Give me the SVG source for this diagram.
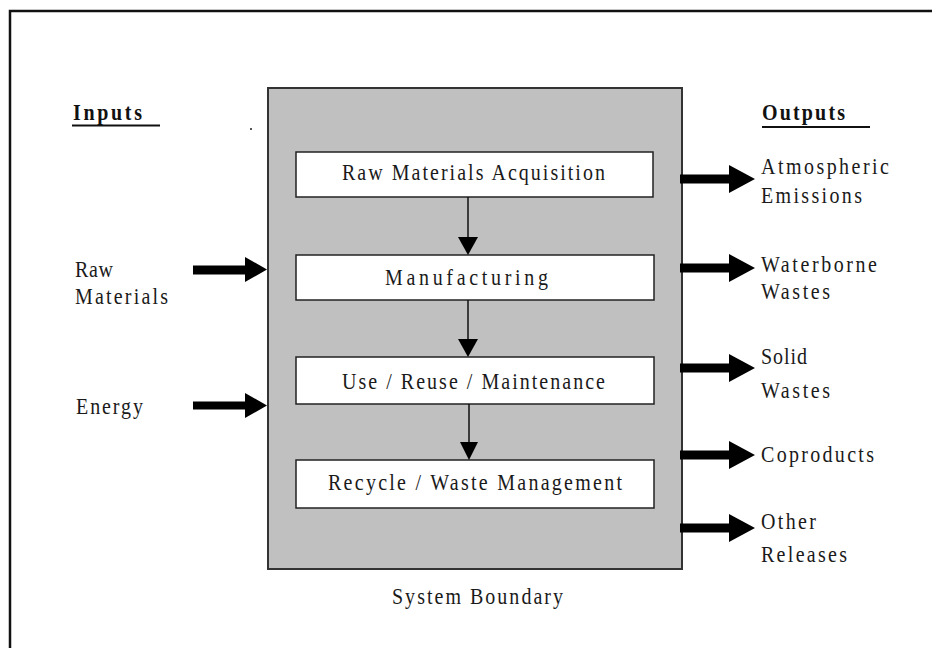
<svg xmlns="http://www.w3.org/2000/svg" width="932" height="648" viewBox="0 0 932 648">
<style>
.t{font-family:"Liberation Serif","Times New Roman",serif;font-size:20px;fill:#1a1a1a}
.b{font-family:"Liberation Serif","Times New Roman",serif;font-size:20px;font-weight:bold;fill:#111}
.box{fill:#fff;stroke:#222;stroke-width:1.5}
.fat{fill:#000}
.thin{stroke:#111;stroke-width:1.5;fill:none}
</style>
<rect width="932" height="648" fill="#fff"/>
<path d="M10,648 V11 H932" fill="none" stroke="#111" stroke-width="2.5"/>
<g id="boundary">
<rect x="268" y="88" width="414" height="481" fill="#c0c0c0" stroke="#333" stroke-width="2"/>
<g transform="scale(1 1.15)"><text class="t" x="392" y="525.2" textLength="171" lengthAdjust="spacing">System Boundary</text></g>
</g>
<rect x="250" y="128" width="2" height="2" fill="#555"/>
<g id="inputs-header">
<g transform="scale(1 1.15)"><text class="b" x="73" y="104.3" textLength="69" lengthAdjust="spacing">Inputs</text></g>
<rect x="72" y="124.5" width="88" height="2" fill="#111"/>
</g>
<g id="outputs-header">
<g transform="scale(1 1.15)"><text class="b" x="762" y="104.3" textLength="83" lengthAdjust="spacing">Outputs</text></g>
<rect x="762" y="126" width="108" height="2" fill="#111"/>
</g>
<g id="raw-acq">
<rect class="box" x="296" y="152" width="357" height="45"/>
<g transform="scale(1 1.15)"><text class="t" x="342" y="156.5" textLength="263" lengthAdjust="spacing">Raw Materials Acquisition</text></g>
</g>
<g id="manufacturing">
<rect class="box" x="296" y="255" width="358" height="45"/>
<g transform="scale(1 1.15)"><text class="t" x="385" y="247.8" textLength="163" lengthAdjust="spacing">Manufacturing</text></g>
</g>
<g id="use">
<rect class="box" x="296" y="357" width="358" height="47"/>
<g transform="scale(1 1.15)"><text class="t" x="342" y="338.3" textLength="263" lengthAdjust="spacing">Use / Reuse / Maintenance</text></g>
</g>
<g id="recycle">
<rect class="box" x="296" y="460" width="358" height="48"/>
<g transform="scale(1 1.15)"><text class="t" x="328" y="426.1" textLength="294" lengthAdjust="spacing">Recycle / Waste Management</text></g>
</g>
<g id="in-raw">
<g transform="scale(1 1.15)">
<text class="t" x="75" y="240.9" textLength="38" lengthAdjust="spacing">Raw</text>
<text class="t" x="75" y="264.3" textLength="93" lengthAdjust="spacing">Materials</text>
</g>
</g>
<g id="in-energy">
<g transform="scale(1 1.15)"><text class="t" x="76" y="360" textLength="67" lengthAdjust="spacing">Energy</text></g>
</g>
<g id="out-atm">
<g transform="scale(1 1.15)">
<text class="t" x="761" y="151.3" textLength="128" lengthAdjust="spacing">Atmospheric</text>
<text class="t" x="761" y="176.5" textLength="101" lengthAdjust="spacing">Emissions</text>
</g>
</g>
<g id="out-water">
<g transform="scale(1 1.15)">
<text class="t" x="761" y="236.5" textLength="116" lengthAdjust="spacing">Waterborne</text>
<text class="t" x="761" y="260" textLength="69" lengthAdjust="spacing">Wastes</text>
</g>
</g>
<g id="out-solid">
<g transform="scale(1 1.15)">
<text class="t" x="761" y="316.5" textLength="46" lengthAdjust="spacing">Solid</text>
<text class="t" x="761" y="346.1" textLength="69" lengthAdjust="spacing">Wastes</text>
</g>
</g>
<g id="out-coprod">
<g transform="scale(1 1.15)"><text class="t" x="761" y="401.7" textLength="113" lengthAdjust="spacing">Coproducts</text></g>
</g>
<g id="out-other">
<g transform="scale(1 1.15)">
<text class="t" x="761" y="460" textLength="55" lengthAdjust="spacing">Other</text>
<text class="t" x="761" y="488.7" textLength="86" lengthAdjust="spacing">Releases</text>
</g>
</g>
<g id="connectors">
<line class="thin" x1="468" y1="197" x2="468" y2="238"/>
<polygon class="fat" points="458,237 478,237 468,255"/>
<line class="thin" x1="468" y1="300" x2="468" y2="340"/>
<polygon class="fat" points="458,339 478,339 468,357"/>
<line class="thin" x1="469" y1="404" x2="469" y2="443"/>
<polygon class="fat" points="460,442 478,442 469,460"/>
<polygon class="fat" points="193,265.5 245,265.5 245,257 267,269.5 245,282 245,274.5 193,274.5"/>
<polygon class="fat" points="193,401.5 245,401.5 245,393 267,405.5 245,418 245,409.5 193,409.5"/>
<polygon class="fat" points="680,174.5 729,174.5 729,165 755,179 729,193 729,183.5 680,183.5"/>
<polygon class="fat" points="680,263.5 729,263.5 729,254 755,268 729,282 729,272.5 680,272.5"/>
<polygon class="fat" points="680,363.5 729,363.5 729,354 755,368 729,382 729,372.5 680,372.5"/>
<polygon class="fat" points="680,450.5 729,450.5 729,441 755,455 729,469 729,459.5 680,459.5"/>
<polygon class="fat" points="680,523.5 729,523.5 729,514 755,528 729,542 729,532.5 680,532.5"/>
</g>
</svg>
